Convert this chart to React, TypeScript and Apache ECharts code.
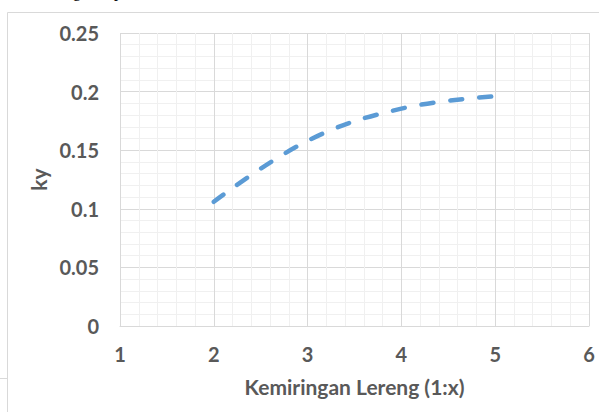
import React, { useEffect, useRef } from "react";
import * as echarts from "echarts";

const xValues = [2, 3, 4, 5];
const kyValues = [0.106, 0.158, 0.1855, 0.196];
const xTitle = "Kemiringan Lereng (1:x)";
const yTitle = "ky";

export default function App() {
  const ref = useRef<HTMLDivElement>(null);
  useEffect(() => {
    if (!ref.current) return;
    const chart = echarts.init(ref.current, null, { renderer: "svg" });
    const font = "Lato, 'Open Sans', sans-serif";
    chart.setOption({
      animation: false,
      backgroundColor: "#ffffff",
      grid: { left: 120, right: 10, top: 33, bottom: 86, containLabel: false },
      xAxis: {
        type: "value",
        min: 1,
        max: 6,
        interval: 1,
        name: xTitle,
        nameLocation: "middle",
        nameGap: 50,
        nameTextStyle: { color: "#595959", fontFamily: font, fontWeight: "bold", fontSize: 21 },
        axisLine: { show: true, lineStyle: { color: "#d9d9d9", width: 1 } },
        axisTick: { show: false },
        axisLabel: { color: "#595959", fontFamily: font, fontWeight: "bold", fontSize: 20, margin: 18 },
        splitLine: { show: true, lineStyle: { color: "#d9d9d9", width: 1 } },
        minorTick: { show: false, splitNumber: 5 },
        minorSplitLine: { show: true, lineStyle: { color: "#f0f0f0", width: 1 } },
      },
      yAxis: {
        type: "value",
        min: 0,
        max: 0.25,
        interval: 0.05,
        name: yTitle,
        nameLocation: "middle",
        nameGap: 71,
        nameRotate: 90,
        nameTextStyle: { color: "#595959", fontFamily: font, fontWeight: "bold", fontSize: 21 },
        axisLine: { show: false },
        axisTick: { show: false },
        axisLabel: {
          color: "#595959",
          fontFamily: font,
          fontWeight: "bold",
          fontSize: 20,
          margin: 21,
          formatter: (v: number) => String(parseFloat(v.toFixed(2))),
        },
        splitLine: { show: true, lineStyle: { color: "#d9d9d9", width: 1 } },
        minorTick: { show: false, splitNumber: 5 },
        minorSplitLine: { show: true, lineStyle: { color: "#f0f0f0", width: 1 } },
      },
      series: [
        {
          type: "line",
          data: xValues.map((x, i) => [x, kyValues[i]]),
          smooth: 0.4,
          showSymbol: false,
          symbol: "none",
          lineStyle: { color: "#5b9bd5", width: 4.5, type: [12, 17], cap: "round" },
        },
      ],
      graphic: [
        {
          type: "rect",
          shape: { x: 7.5, y: 12.5, width: 700, height: 500 },
          style: { fill: "none", stroke: "#d9d9d9", lineWidth: 1 },
          z: -1,
        },
        {
          type: "line",
          shape: { x1: 0, y1: 378.5, x2: 8, y2: 378.5 },
          style: { stroke: "#d9d9d9", lineWidth: 1 },
        },
        {
          type: "text",
          x: 73,
          y: -1,
          style: { text: "g", font: "16px 'Liberation Serif', serif", fill: "#000", textVerticalAlign: "bottom" },
        },
        {
          type: "text",
          x: 114,
          y: -1,
          style: { text: "p", font: "16px 'Liberation Serif', serif", fill: "#000", textVerticalAlign: "bottom" },
        },
      ],
    });
    return () => chart.dispose();
  }, []);
  return (
    <div
      ref={ref}
      style={{ position: "fixed", left: 0, top: 0, width: 599, height: 412 }}
    />
  );
}
